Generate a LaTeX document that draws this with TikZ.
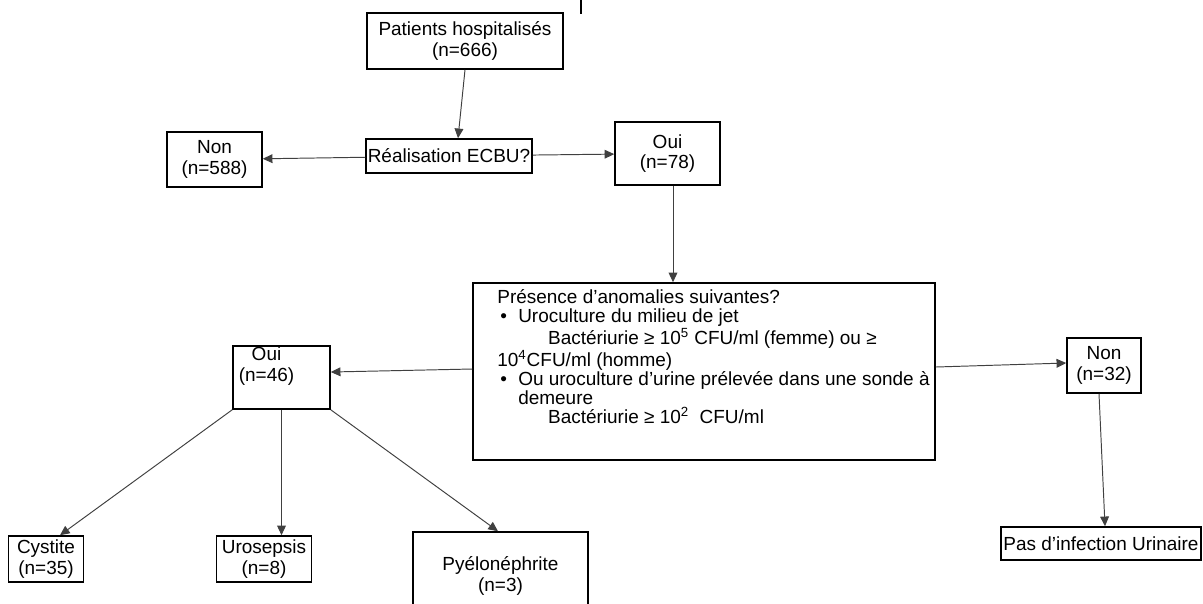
\documentclass[tikz,border=0pt]{standalone}
\usepackage{fontspec}
\setmainfont{Liberation Sans}
\usetikzlibrary{arrows.meta}

\begin{document}
\begin{tikzpicture}[x=0.02cm,y=-0.02cm,->,>={Triangle[length=5.5pt,width=5pt]},
    box/.style={draw,rectangle,line width=0.9pt,inner sep=1pt,align=center,font=\fontsize{10.8}{11.6}\selectfont},
    txt/.style={inner sep=0pt,align=left,font=\fontsize{10.8}{10.9}\selectfont}]
            \useasboundingbox (0,0) rectangle (1203,603);
            \clip (0,0) rectangle (1203,603);
            \draw[-,line width=1pt] (581,0) -- (581,14);

            \node[box, minimum width=3.92cm, minimum height=1.12cm] (1) at (465,41) {Patients hospitalisés\\(n=666)};
            \node[box, minimum width=3.28cm, minimum height=0.68cm] (2) at (449,156) {Réalisation ECBU?};
            \node[box, minimum width=1.9cm, minimum height=1.1cm] (3) at (214.5,159.5) {Non\\(n=588)};
            \node[box, minimum width=2.1cm, minimum height=1.26cm] (4) at (667.5,153.5) {Oui\\(n=78)};
            \node[box, minimum width=9.24cm, minimum height=3.54cm] (5) at (704,371.5) {};
            \node[txt, anchor=north west] (5a) at (497,289) {Présence d’anomalies suivantes?\\
                \makebox[11.9pt][l]{\hspace{1.7pt}•}Uroculture du milieu de jet\\
                \hspace*{28.9pt}Bactériurie ≥ 10\textsuperscript{5} CFU/ml (femme) ou ≥\\
                10\textsuperscript{4}CFU/ml (homme)\\
                \makebox[11.9pt][l]{\hspace{1.7pt}•}Ou uroculture d’urine prélevée dans une sonde à\\
                \hspace*{11.9pt}demeure\\
                \hspace*{28.9pt}Bactériurie ≥ 10\textsuperscript{2}\ \ CFU/ml};
            \node[box, minimum width=1.94cm, minimum height=1.26cm] (6) at (281.5,377.5) {};
            \node[txt, align=center, font=\fontsize{10.8}{11.6}\selectfont] (6a) at (266.5,366) {Oui\\(n=46)};
            \node[box, minimum width=1.48cm, minimum height=1.1cm] (7) at (1104,365.5) {Non\\(n=32)};
            \node[box, minimum width=4cm, minimum height=0.66cm] (8) at (1101,543.5) {Pas d’infection Urinaire};
            \node[box, minimum width=1.5cm, minimum height=0.92cm] (9) at (46,559) {Cystite\\(n=35)};
            \node[box, minimum width=1.9cm, minimum height=0.92cm] (10) at (264,559) {Urosepsis\\(n=8)};
            \node[box, minimum width=3.5cm, minimum height=1.76cm] (11) at (500.5,576) {Pyélonéphrite\\(n=3)};

            \path[every edge/.append style={draw=black!75,line width=0.55pt}]
                (1.south) edge ([xshift=0.18cm]2.north)
                (2) edge (3)
                (2) edge (4)
                ([xshift=0.11cm]4.south) edge ([xshift=0.11cm]4.south |- 5.north)
                ([yshift=0.05cm]5.west) edge ([yshift=0.11cm]6.east)
                ([yshift=0.09cm]5.east) edge ([yshift=0.05cm]7.west)
                ([xshift=-0.1cm]7.south) edge ([xshift=0.08cm]8.north)
                (6.south west) edge ([xshift=0.28cm]9.north)
                (6.south) edge (6.south |- 10.north)
                (6.south east) edge ([xshift=-0.05cm]11.north)
                ;
        \end{tikzpicture}
\end{document}
